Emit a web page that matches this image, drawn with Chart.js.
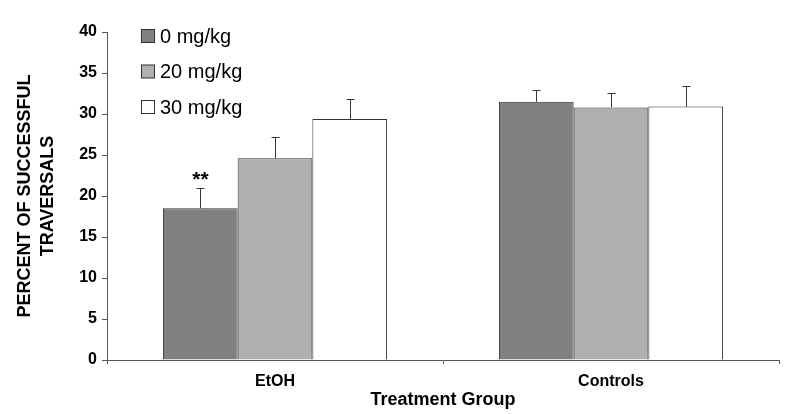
<!DOCTYPE html>
<html>
<head>
<meta charset="utf-8">
<script src="https://cdn.jsdelivr.net/npm/chart.js@4"></script>
<style>
  html, body { margin: 0; padding: 0; background: #fff; }
  #wrap { width: 800px; height: 414px; }
</style>
</head>
<body>
<div id="wrap"><canvas id="myChart" width="800" height="414"></canvas></div>
<script>
// data
const groups = ['EtOH', 'Controls'];
const doses = ['0 mg/kg', '20 mg/kg', '30 mg/kg'];
const mean0 = [18.5, 31.5];
const mean20 = [24.6, 30.8];
const mean30 = [29.4, 30.9];
const sem0 = [2.5, 1.4];
const sem20 = [2.6, 1.8];
const sem30 = [2.4, 2.5];
const stars = ['**', ''];   // marks over the 0 mg/kg bars
const yTicks = [0, 5, 10, 15, 20, 25, 30, 35, 40];

const fills = ['#808080', '#b0b0b0', '#ffffff'];
const means = [mean0, mean20, mean30];
const sems = [sem0, sem20, sem30];
const FONT = 'Arial, "Liberation Sans"';

// error bars (up only) + significance stars
const errorBars = {
  id: 'errorBars',
  afterDatasetsDraw(chart) {
    const ctx = chart.ctx;
    const y = chart.scales.y;
    ctx.save();
    ctx.strokeStyle = '#333';
    ctx.lineWidth = 1;
    chart.data.datasets.forEach((ds, di) => {
      const meta = chart.getDatasetMeta(di);
      meta.data.forEach((bar, i) => {
        const top = Math.round(y.getPixelForValue(ds.data[i] + ds.err[i])) + 0.5;
        const x = Math.round(bar.x) + 0.5;
        ctx.beginPath();
        ctx.moveTo(x, bar.y);
        ctx.lineTo(x, top);
        ctx.moveTo(x - 4, top);
        ctx.lineTo(x + 4, top);
        ctx.stroke();
        if (di === 0 && stars[i]) {
          ctx.fillStyle = '#000';
          ctx.font = 'bold 21px ' + FONT;
          ctx.textAlign = 'center';
          ctx.textBaseline = 'alphabetic';
          ctx.fillText(stars[i], x, top - 3);
        }
      });
    });
    ctx.restore();
  }
};

// legend boxes in the top left of the plot
const doseLegend = {
  id: 'doseLegend',
  afterDraw(chart) {
    const ctx = chart.ctx;
    ctx.save();
    ctx.font = '20px ' + FONT;
    ctx.textBaseline = 'middle';
    ctx.textAlign = 'left';
    chart.data.datasets.forEach((ds, i) => {
      const cy = 36 + i * 35.5;
      ctx.fillStyle = ds.backgroundColor;
      ctx.fillRect(141.5, cy - 6.5, 13, 13);
      ctx.strokeStyle = '#333';
      ctx.lineWidth = 1;
      ctx.strokeRect(141.5, cy - 6.5, 13, 13);
      ctx.fillStyle = '#000';
      ctx.fillText(ds.label, 160, cy + 1);
    });
    ctx.restore();
  }
};

const ctx = document.getElementById('myChart');
new Chart(ctx, {
  type: 'bar',
  data: {
    labels: groups,
    datasets: doses.map((d, i) => ({
      label: d,
      data: means[i],
      err: sems[i],
      backgroundColor: fills[i],
      borderColor: '#333',
      borderWidth: 1,
      categoryPercentage: 0.667,
      barPercentage: 1.0
    }))
  },
  options: {
    responsive: false,
    animation: false,
    layout: { padding: { top: 32, right: 21, left: 0, bottom: 0 } },
    plugins: {
      legend: { display: false },
      tooltip: { enabled: false }
    },
    scales: {
      x: {
        grid: { display: true, drawOnChartArea: false, drawTicks: true, tickLength: 4, color: '#555' },
        border: { color: '#555', width: 1 },
        ticks: { color: '#000', font: { family: FONT, size: 16, weight: 'bold' }, padding: 8 },
        title: {
          display: true, text: 'Treatment Group', color: '#000',
          font: { family: FONT, size: 18, weight: 'bold' },
          padding: { top: 0, bottom: 3 }
        },
        afterFit(scale) { scale.height = 54; }
      },
      y: {
        min: 0, max: 40,
        afterBuildTicks(scale) { scale.ticks = yTicks.map(v => ({ value: v })); },
        grid: { display: true, drawOnChartArea: false, drawTicks: true, tickLength: 5, color: '#555' },
        border: { color: '#555', width: 1 },
        ticks: { color: '#000', font: { family: FONT, size: 16, weight: 'bold' }, padding: 5 },
        title: {
          display: true, text: ['PERCENT OF SUCCESSFUL', 'TRAVERSALS'], color: '#000',
          font: { family: FONT, size: 18, weight: 'bold', lineHeight: 1.3 },
          padding: { top: 13, bottom: 0 }
        },
        afterFit(scale) { scale.width = 107; }
      }
    }
  },
  plugins: [errorBars, doseLegend]
});
</script>
</body>
</html>
